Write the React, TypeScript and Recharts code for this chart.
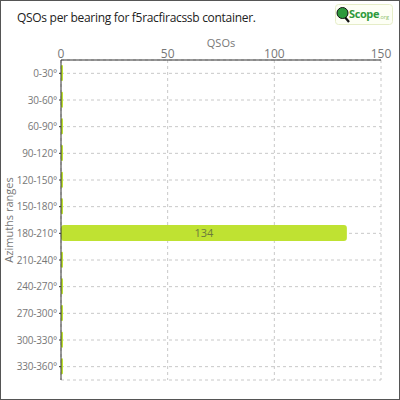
import React from 'react';
import { BarChart, Bar, XAxis, YAxis, CartesianGrid, LabelList } from 'recharts';

const ranges = [
  '0-30°', '30-60°', '60-90°', '90-120°', '120-150°', '150-180°',
  '180-210°', '210-240°', '240-270°', '270-300°', '300-330°', '330-360°',
];
const qsos = [0, 0, 0, 0, 0, 0, 134, 0, 0, 0, 0, 0];
const xTicks = [0, 50, 100, 150];

const data = ranges.map((name, i) => ({ name, qsos: qsos[i] }));

const font = '"Open Sans", sans-serif';

const BarLabel = (props: any) => {
  const { x, y, width, height, value } = props;
  if (!value) return null;
  return (
    <text
      x={x + width / 2}
      y={y + height / 2}
      dy={4}
      textAnchor="middle"
      fontSize={11}
      fill="#6b7a3c"
      fontFamily={font}
    >
      {value}
    </text>
  );
};

function Logo() {
  return (
    <svg width={58} height={21} style={{ position: 'absolute', left: 334, top: 3 }}>
      <rect x={0.5} y={0.5} width={57} height={20} rx={3} fill="#fdfff5" stroke="#e6edc8" />
      <line x1={9} y1={12} x2={14} y2={18} stroke="#111" strokeWidth={2.2} />
      <circle cx={7.5} cy={9} r={5.5} fill="#2e9a3c" stroke="#111" strokeWidth={1} />
      <text x={14} y={14} fontSize={11} fontWeight={700} fill="#2e9a3c" fontFamily={font} letterSpacing={-0.4}>
        Scope
      </text>
      <text x={44} y={15} fontSize={5.5} fill="#8cc06a" fontFamily={font}>
        .org
      </text>
    </svg>
  );
}

export default function App() {
  return (
    <div
      style={{
        position: 'absolute',
        left: 0,
        top: 0,
        width: 400,
        height: 400,
        background: '#fff',
        boxSizing: 'border-box',
        border: '1px solid #555',
        fontFamily: font,
      }}
    >
      <div
        style={{
          position: 'absolute',
          left: 16,
          top: 8,
          fontSize: 12,
          color: '#222',
          letterSpacing: -0.3,
        }}
      >
        QSOs per bearing for f5racfiracssb container.
      </div>
      <Logo />
      <svg width={400} height={400} style={{ position: 'absolute', left: -1, top: -1, pointerEvents: 'none' }}>
        <text x={221} y={47} textAnchor="middle" fontSize={11} fill="#777" fontFamily={font}>
          QSOs
        </text>
        <text
          x={0}
          y={0}
          transform="translate(13, 220) rotate(-90)"
          textAnchor="middle"
          fontSize={11}
          fill="#777"
          fontFamily={font}
        >
          Azimuths ranges
        </text>
      </svg>
      <div style={{ position: 'absolute', left: -1, top: -1 }}>
        <BarChart
          width={400}
          height={400}
          data={data}
          layout="vertical"
          margin={{ top: 40, right: 19, bottom: 20, left: 0 }}
        >
          <CartesianGrid strokeDasharray="3 3" stroke="#c8c8c8" />
          <XAxis
            type="number"
            orientation="top"
            domain={[0, 150]}
            ticks={xTicks}
            height={20}
            axisLine={{ stroke: '#333' }}
            tickLine={false}
            tickSize={2}
            tick={{ fontSize: 12, fill: '#777', fontFamily: font }}
            tickMargin={0}
          />
          <YAxis
            type="category"
            dataKey="name"
            width={61}
            axisLine={{ stroke: '#333' }}
            tickLine={{ stroke: '#333' }}
            tickSize={2}
            tick={{ fontSize: 10, fill: '#777', fontFamily: font, letterSpacing: -0.2 }}
            interval={0}
          />
          <Bar
            dataKey="qsos"
            fill="#bfe232"
            barSize={16}
            radius={3}
            minPointSize={2}
            isAnimationActive={false}
          >
            <LabelList dataKey="qsos" content={BarLabel} />
          </Bar>
        </BarChart>
      </div>
    </div>
  );
}
